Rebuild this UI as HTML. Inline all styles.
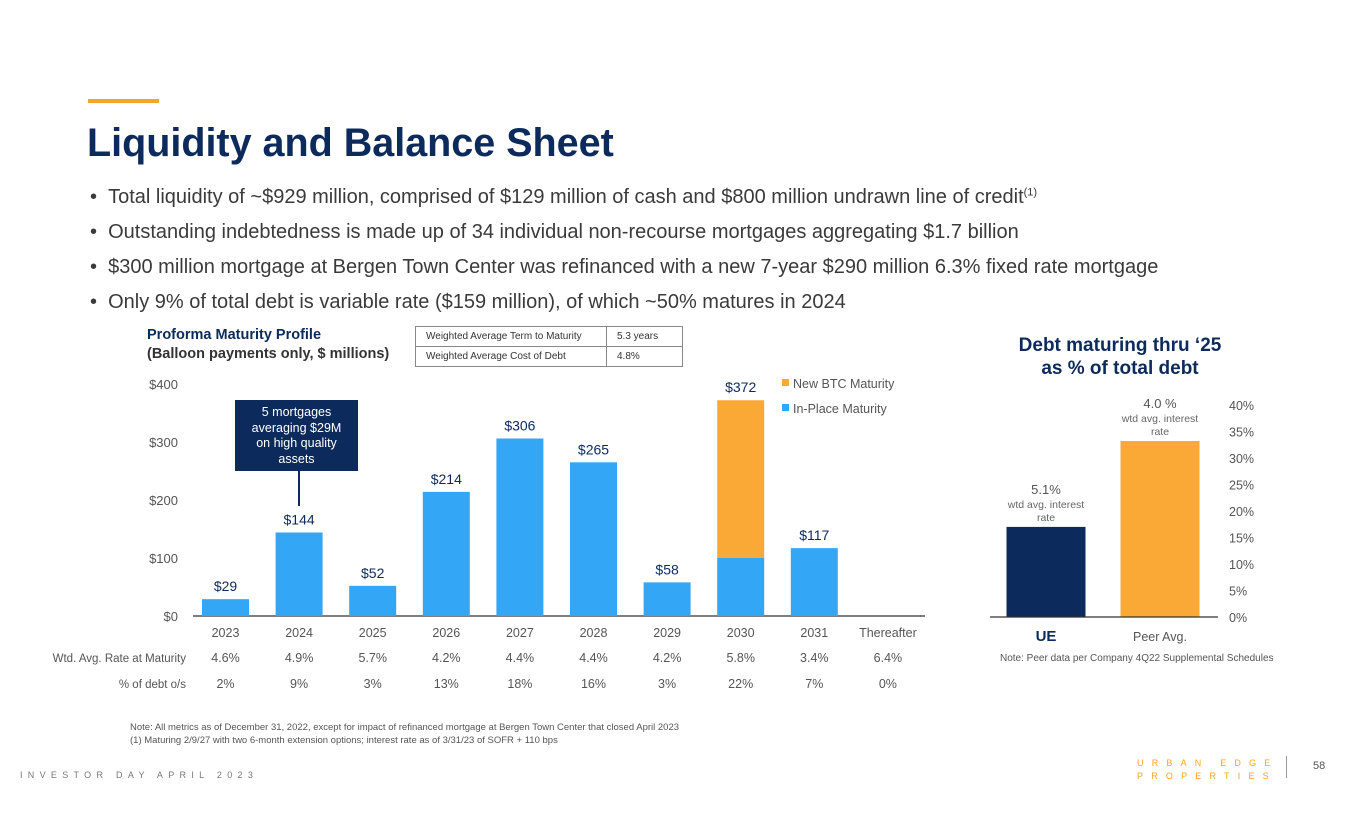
<!DOCTYPE html>
<html><head><meta charset="utf-8"><style>
body{margin:0;width:1365px;height:829px;background:#fff;font-family:"Liberation Sans",sans-serif;position:relative;overflow:hidden}
.a{position:absolute;white-space:nowrap}
.bul{left:90px;font-size:20px;color:#3a3a3a}
svg text{font-family:"Liberation Sans",sans-serif}
</style></head><body>
<div class="a" style="left:88px;top:99px;width:71px;height:4px;background:#f5a623"></div>
<div class="a" style="left:87px;top:121px;font-size:39.5px;font-weight:bold;color:#0c2a5b">Liquidity and Balance Sheet</div>
<div class="a bul" style="top:186px">•&nbsp;&nbsp;Total liquidity of ~$929 million, comprised of $129 million of cash and $800 million undrawn line of credit<sup style="font-size:11px">(1)</sup></div>
<div class="a bul" style="top:221px">•&nbsp;&nbsp;Outstanding indebtedness is made up of 34 individual non-recourse mortgages aggregating $1.7 billion</div>
<div class="a bul" style="top:256px">•&nbsp;&nbsp;$300 million mortgage at Bergen Town Center was refinanced with a new 7-year $290 million 6.3% fixed rate mortgage</div>
<div class="a bul" style="top:291px">•&nbsp;&nbsp;Only 9% of total debt is variable rate ($159 million), of which ~50% matures in 2024</div>

<div class="a" style="left:147px;top:326px;font-size:14.5px;font-weight:bold;color:#0c2a5b;line-height:19px">Proforma Maturity Profile<br><span style="color:#333">(Balloon payments only, $ millions)</span></div>
<table class="a" style="left:415px;top:326px;border-collapse:collapse;font-size:10px;color:#333">
<tr><td style="border:1.5px solid #888;width:170px;height:19px;padding:0 10px">Weighted Average Term to Maturity</td><td style="border:1.5px solid #888;width:55px;padding:0 10px">5.3 years</td></tr>
<tr><td style="border:1.5px solid #888;height:19px;padding:0 10px">Weighted Average Cost of Debt</td><td style="border:1.5px solid #888;padding:0 10px">4.8%</td></tr>
</table>

<svg id="c1" class="a" style="left:0;top:0" width="1365" height="829"></svg>

<div class="a" style="left:235px;top:400px;width:123px;height:71px;background:#0c2a5b;color:#fff;font-size:12.5px;text-align:center;line-height:15.5px;white-space:normal;padding:5px 12px 0;box-sizing:border-box">5 mortgages averaging $29M on high quality assets</div>
<div class="a" style="left:298px;top:471px;width:2px;height:35px;background:#0c2a5b"></div>

<div class="a" style="left:990px;top:334px;width:260px;text-align:center;font-size:19px;font-weight:bold;color:#0c2a5b;line-height:23px;white-space:normal">Debt maturing thru ‘25<br>as % of total debt</div>
<div class="a" style="left:1000px;top:653px;font-size:10px;color:#555">Note: Peer data per Company 4Q22 Supplemental Schedules</div>

<div class="a" style="left:130px;top:721px;font-size:9.5px;color:#555;line-height:13px">Note: All metrics as of December 31, 2022, except for impact of refinanced mortgage at Bergen Town Center that closed April 2023<br>(1) Maturing 2/9/27 with two 6-month extension options; interest rate as of 3/31/23 of SOFR + 110 bps</div>
<div class="a" style="left:20px;top:770px;font-size:9px;letter-spacing:5.3px;color:#777">INVESTOR DAY APRIL 2023</div>
<div class="a" style="left:1137px;top:757px;font-size:9px;letter-spacing:8.2px;color:#f5a623;line-height:13px">URBAN EDGE<br>PROPERTIES</div>
<div class="a" style="left:1286px;top:756px;width:1px;height:22px;background:#999"></div>
<div class="a" style="left:1313px;top:760px;font-size:11px;color:#555">58</div>

<script>
const years=["2023","2024","2025","2026","2027","2028","2029","2030","2031","Thereafter"];
const inPlace=[29,144,52,214,306,265,58,100,117,0];
const newBtc=[0,0,0,0,0,0,0,272,0,0];
const totals=["$29","$144","$52","$214","$306","$265","$58","$372","$117",""];
const rates=["4.6%","4.9%","5.7%","4.2%","4.4%","4.4%","4.2%","5.8%","3.4%","6.4%"];
const pcts=["2%","9%","3%","13%","18%","16%","3%","22%","7%","0%"];
const yTicks=[0,100,200,300,400];
const peerCats=["UE","Peer Avg."];
const peerVals=[17,33.2];
const peerRates=["5.1%","4.0 %"];
const pctTicks=[0,5,10,15,20,25,30,35,40];

const NS="http://www.w3.org/2000/svg";
const svg=document.getElementById('c1');
function mk(tag,attrs,txt){const e=document.createElementNS(NS,tag);for(const k in attrs)e.setAttribute(k,attrs[k]);if(txt!==undefined)e.textContent=txt;svg.appendChild(e);return e;}
const y=v=>616-v*0.58;
const x=i=>225.5+i*73.6;
yTicks.forEach(t=>{const e=mk('text',{x:178,y:y(t)+5,'text-anchor':'end','font-size':13,fill:'#555'},'$'+t);

});
mk('line',{x1:193,x2:925,y1:616,y2:616,stroke:'#333','stroke-width':1.2});
years.forEach((yr,i)=>{
 if(inPlace[i]>0){const b=mk('rect',{x:x(i)-23.5,y:y(inPlace[i]),width:47,height:inPlace[i]*0.58,fill:'#33a7f5'});
 
 }
 if(newBtc[i]>0){const b=mk('rect',{x:x(i)-23.5,y:y(inPlace[i]+newBtc[i]),width:47,height:newBtc[i]*0.58,fill:'#faa937'});
 
 }
 const tot=inPlace[i]+newBtc[i];
 if(totals[i]){const l=mk('text',{x:x(i),y:y(tot)-8,'text-anchor':'middle','font-size':14,fill:'#0c2a5b'},totals[i]);
 
 }
 const c=mk('text',{x:x(i),y:637,'text-anchor':'middle','font-size':12.5,fill:'#555'},yr);
 
 
 const r=mk('text',{x:x(i),y:662,'text-anchor':'middle','font-size':12.5,fill:'#555'},rates[i]);
 
 
 const p=mk('text',{x:x(i),y:688,'text-anchor':'middle','font-size':12.5,fill:'#555'},pcts[i]);
 
 
});
let t1=mk('text',{x:186,y:662,'text-anchor':'end','font-size':11.5,fill:'#555'},'Wtd. Avg. Rate at Maturity');


let t2=mk('text',{x:186,y:688,'text-anchor':'end','font-size':11.5,fill:'#555'},'% of debt o/s');


mk('rect',{x:782,y:379,width:7,height:7,fill:'#faa937'});
let lg1=mk('text',{x:793,y:388,'font-size':12.5,fill:'#555'},'New BTC Maturity');


mk('rect',{x:782,y:404,width:7,height:7,fill:'#33a7f5'});
let lg2=mk('text',{x:793,y:413,'font-size':12.5,fill:'#555'},'In-Place Maturity');



const py=v=>617-v*5.3;
const px=i=>1046+i*114;
pctTicks.forEach(t=>{const e=mk('text',{x:1229,y:py(t)+5,'font-size':12.5,fill:'#555'},t+'%');

});
const cols=['#0c2a5b','#faa937'];
peerCats.forEach((c,i)=>{
 const b=mk('rect',{x:px(i)-39.5,y:py(peerVals[i]),width:79,height:peerVals[i]*5.3,fill:cols[i]});
 
 
 const top=py(peerVals[i]);
 const a=mk('text',{x:px(i),y:top-33,'text-anchor':'middle','font-size':13,fill:'#555'},peerRates[i]);
 
 
 mk('text',{x:px(i),y:top-19,'text-anchor':'middle','font-size':10.5,fill:'#666'},'wtd avg. interest');
 mk('text',{x:px(i),y:top-6,'text-anchor':'middle','font-size':10.5,fill:'#666'},'rate');
 const l=mk('text',{x:px(i),y:641,'text-anchor':'middle','font-size':i?12.5:15,'font-weight':i?'normal':'bold',fill:i?'#555':'#0c2a5b'},c);
 
 
});
mk('line',{x1:990,x2:1218,y1:617,y2:617,stroke:'#333','stroke-width':1.2});
</script>
</body></html>
